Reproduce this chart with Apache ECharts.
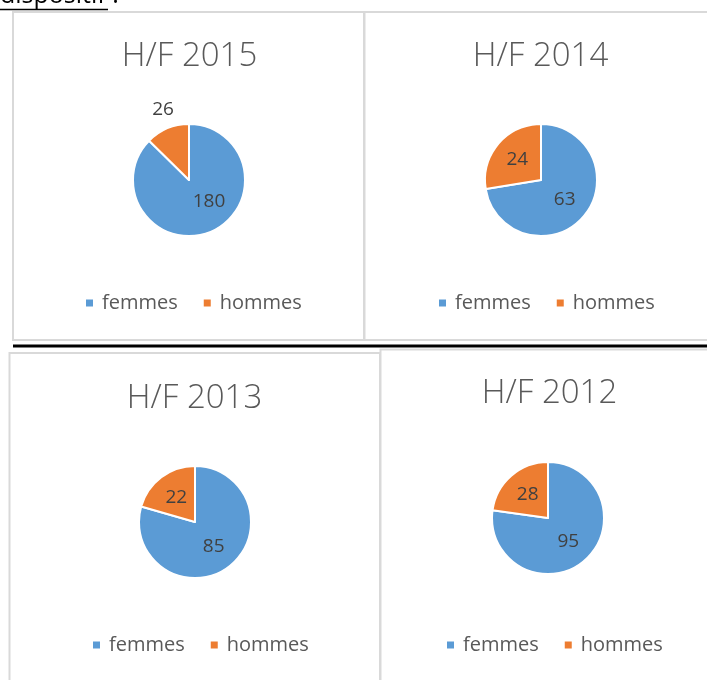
<!DOCTYPE html>
<html><head><meta charset="utf-8">
<script src="https://cdn.jsdelivr.net/npm/echarts@6/dist/echarts.min.js"></script>
<style>html,body{margin:0;padding:0;background:#fff;overflow:hidden}#c{width:707px;height:680px}</style>
</head><body><div id="c"></div>
<script>
const categories = ['femmes', 'hommes'];
const titles = ['H/F 2015', 'H/F 2014', 'H/F 2013', 'H/F 2012'];
const values2015 = [180, 26];
const values2014 = [63, 24];
const values2013 = [85, 22];
const values2012 = [95, 28];
const allValues = [values2015, values2014, values2013, values2012];

const colors = ['#5B9BD5', '#ED7D31'];
const FONT = '"Open Sans", "Noto Sans", sans-serif';
// panel layout: pie center, title center, legend left/top
const panels = [
  {cx: 189, cy: 180, tx: 184.5, ty: 35, lx: 79, ly: 288},
  {cx: 541, cy: 180, tx: 535.5, ty: 35, lx: 432, ly: 288},
  {cx: 195, cy: 522, tx: 189.5, ty: 377, lx: 86, ly: 630},
  {cx: 548, cy: 518, tx: 544.5, ty: 372, lx: 440, ly: 630}
];
// small label nudges (Excel best-fit placement)
const labelNudge = [
  [{dx: 8, dy: -7}, {dx: -14, dy: -42}],
  [{}, {}],
  [{}, {}],
  [{}, {}]
];

const chart = echarts.init(document.getElementById('c'), null, {renderer: 'canvas'});

const series = allValues.map((vals, i) => ({
  type: 'pie',
  center: [panels[i].cx, panels[i].cy],
  radius: 56,
  startAngle: 90,
  clockwise: true,
  animation: false,
  silent: true,
  avoidLabelOverlap: false,
  itemStyle: {borderColor: '#ffffff', borderWidth: 2},
  label: {show: true, position: 'inside', color: '#404040', fontSize: 19, fontFamily: FONT, formatter: '{c}'},
  labelLine: {show: false},
  labelLayout: function (p) { return labelNudge[i][p.dataIndex] || {}; },
  emphasis: {disabled: true},
  data: categories.map((c, k) => ({name: c, value: vals[k], itemStyle: {color: colors[k]}}))
}));

const title = titles.map((t, i) => ({
  text: t,
  left: panels[i].tx,
  top: panels[i].ty,
  textAlign: 'center',
  textStyle: {fontFamily: FONT, fontSize: 33, fontWeight: 300, color: '#595959'}
}));

const legend = panels.map((p, i) => ({
  data: categories,
  left: p.lx,
  top: p.ly,
  orient: 'horizontal',
  icon: 'rect',
  itemWidth: 9,
  itemHeight: 9,
  itemGap: 24,
  selectedMode: false,
  textStyle: {fontFamily: FONT, fontSize: 20, color: '#595959', padding: [0, 0, 0, 3]}
}));

const border = {stroke: '#d9d9d9', lineWidth: 2, fill: 'none'};
const graphic = [
  {type: 'rect', shape: {x: 13, y: 12, width: 351, height: 328}, style: border, silent: true},
  {type: 'rect', shape: {x: 364.5, y: 12, width: 360, height: 328}, style: border, silent: true},
  {type: 'rect', shape: {x: 9.5, y: 353, width: 370.5, height: 340}, style: border, silent: true},
  {type: 'rect', shape: {x: 380.5, y: 349.5, width: 340, height: 340}, style: border, silent: true},
  {type: 'line', shape: {x1: 13, y1: 346, x2: 707, y2: 346}, style: {stroke: '#000', lineWidth: 3}, silent: true},
  {type: 'text', x: 0, y: -4, style: {text: 'dispositif :', font: '25px ' + FONT, fill: '#000', verticalAlign: 'middle'}, silent: true},
  {type: 'line', shape: {x1: 0, y1: 9.5, x2: 108, y2: 9.5}, style: {stroke: '#000', lineWidth: 1.5}, silent: true}
];

chart.setOption({
  animation: false,
  color: colors,
  title: title,
  legend: legend,
  series: series,
  graphic: graphic
});
</script>
</body></html>
